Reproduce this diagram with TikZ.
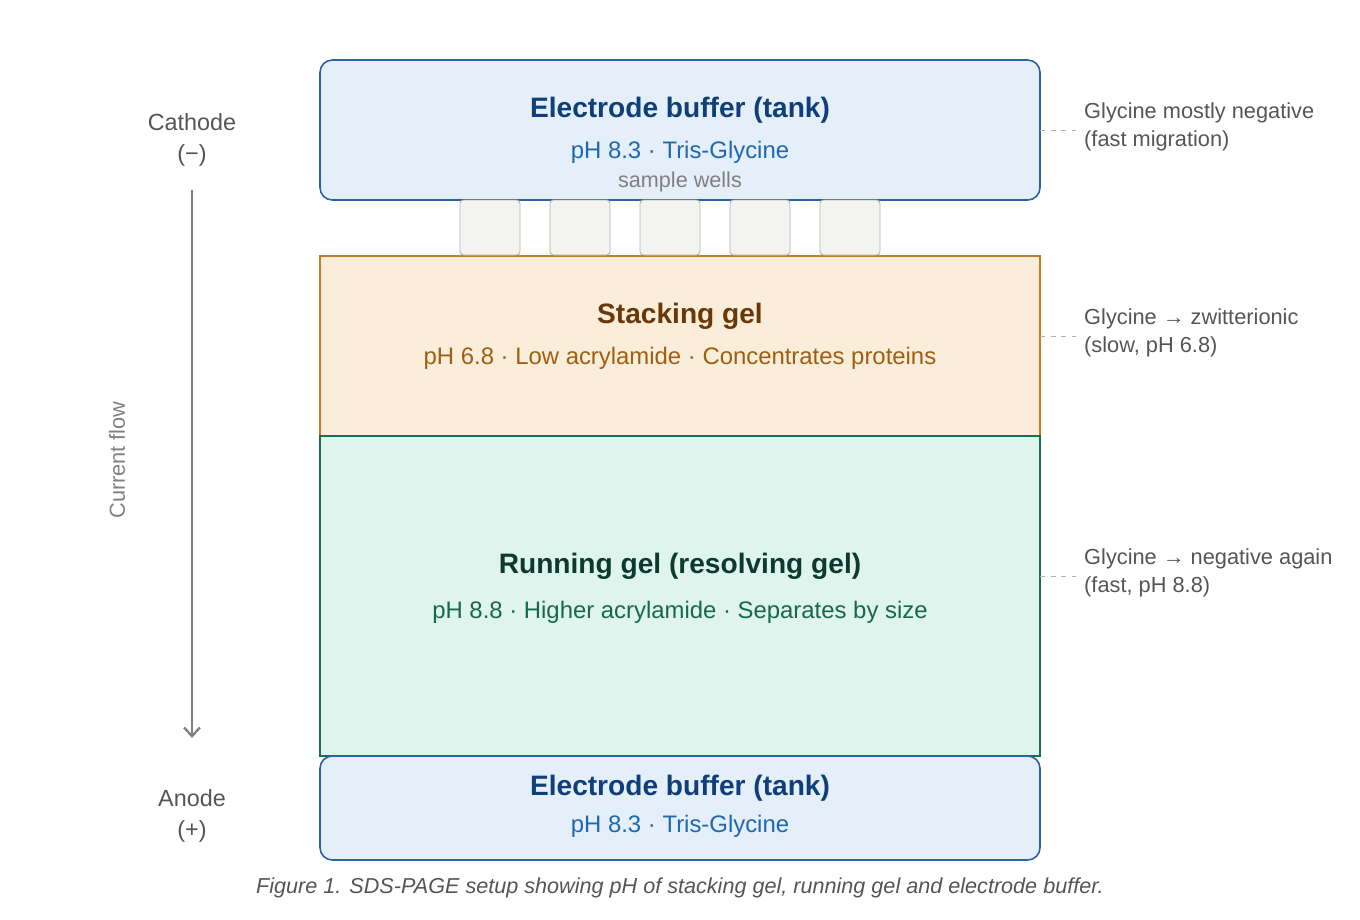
\documentclass[tikz,border=0pt]{standalone}
\usepackage{fontspec}
\setmainfont{Liberation Sans}
\usetikzlibrary{positioning,arrows.meta}
\definecolor{bufFill}{HTML}{E4EFFA}
\definecolor{bufLine}{HTML}{2A64A8}
\definecolor{bufHead}{HTML}{0E3F78}
\definecolor{bufText}{HTML}{1F68B0}
\definecolor{stkFill}{HTML}{FAEEDB}
\definecolor{stkLine}{HTML}{C27C2A}
\definecolor{stkHead}{HTML}{6A3808}
\definecolor{stkText}{HTML}{A05E10}
\definecolor{runFill}{HTML}{E0F4EE}
\definecolor{runLine}{HTML}{1C6B55}
\definecolor{runHead}{HTML}{0D3A2E}
\definecolor{runText}{HTML}{16684E}
\definecolor{wellFill}{HTML}{F3F3EF}
\definecolor{txtGray}{HTML}{555555}
\tikzset{
  head/.style={font=\fontsize{16pt}{19pt}\selectfont\bfseries},
  sub/.style={font=\fontsize{13.6pt}{16pt}\selectfont},
  side/.style={font=\fontsize{12.4pt}{15.9pt}\selectfont, text=txtGray, align=left, anchor=west},
  pole/.style={font=\fontsize{13.3pt}{18pt}\selectfont, text=txtGray, align=center},
  well/.style={draw=gray!60, fill=wellFill, rounded corners=2pt, line width=0.5pt},
  note/.style={draw=gray!60, dashed, line width=0.5pt}
}
\begin{document}
\begin{tikzpicture}[x=0.02cm,y=-0.02cm]
\useasboundingbox (0,0) rectangle (1360,920);
% gels
\draw[fill=stkFill, draw=stkLine, line width=0.8pt] (320,256) rectangle (1040,436);
\draw[fill=runFill, draw=runLine, line width=0.8pt] (320,436) rectangle (1040,756);
% buffers
\draw[fill=bufFill, draw=bufLine, line width=0.9pt, rounded corners=7pt] (320,60) rectangle (1040,200);
\draw[fill=bufFill, draw=bufLine, line width=0.9pt, rounded corners=7pt] (320,756) rectangle (1040,860);
% wells
\foreach \x in {460,550,640,730,820}
  \draw[well] (\x,200) rectangle ++(60,55);

\node[head, text=bufHead] (topHead) at (680,110) {Electrode buffer (tank)};
\node[sub, text=bufText] (topSub) at (680,152) {pH 8.3 · Tris-Glycine};
\node[text=gray, font=\fontsize{12.3pt}{14pt}\selectfont] (wells) at (680,182) {sample wells};
\node[head, text=stkHead] (stkHead) at (680,316) {Stacking gel};
\node[sub, text=stkText] (stkSub) at (680,358) {pH 6.8 · Low acrylamide · Concentrates proteins};
\node[head, text=runHead] (runHead) at (680,566) {Running gel (resolving gel)};
\node[sub, text=runText] (runSub) at (680,612) {pH 8.8 · Higher acrylamide · Separates by size};
\node[head, text=bufHead] (botHead) at (680,788) {Electrode buffer (tank)};
\node[sub, text=bufText] (botSub) at (680,826) {pH 8.3 · Tris-Glycine};

% electrodes
\node[pole] (cathode) at (192,140) {Cathode\\(−)};
\node[pole] (anode) at (192,816) {Anode\\(+)};
\coordinate (flowA) at (192,190);
\coordinate (flowB) at (192,738);
\draw[-{Straight Barb[length=5pt,width=9pt]}, gray, line width=1.3pt] (flowA) -- (flowB);
\node[text=gray, rotate=90, font=\fontsize{12.4pt}{14pt}\selectfont] (flow) at (117,460) {Current flow};

% notes
\coordinate (n1) at (1040,130); \coordinate (n1e) at (1076,130);
\coordinate (n2) at (1040,336); \coordinate (n2e) at (1076,336);
\coordinate (n3) at (1040,576); \coordinate (n3e) at (1076,576);
\draw[note] (n1) -- (n1e);
\draw[note] (n2) -- (n2e);
\draw[note] (n3) -- (n3e);
\node[side] (t1) at (1078,127) {Glycine mostly negative\\(fast migration)};
\node[side] (t2) at (1078,333) {Glycine → zwitterionic\\(slow, pH 6.8)};
\node[side] (t3) at (1078,573) {Glycine → negative again\\(fast, pH 8.8)};

\node[font=\fontsize{12.3pt}{14pt}\selectfont\itshape, text=txtGray] (caption) at (680,888)
  {Figure 1. SDS-PAGE setup showing pH of stacking gel, running gel and electrode buffer.};
\end{tikzpicture}
\end{document}
